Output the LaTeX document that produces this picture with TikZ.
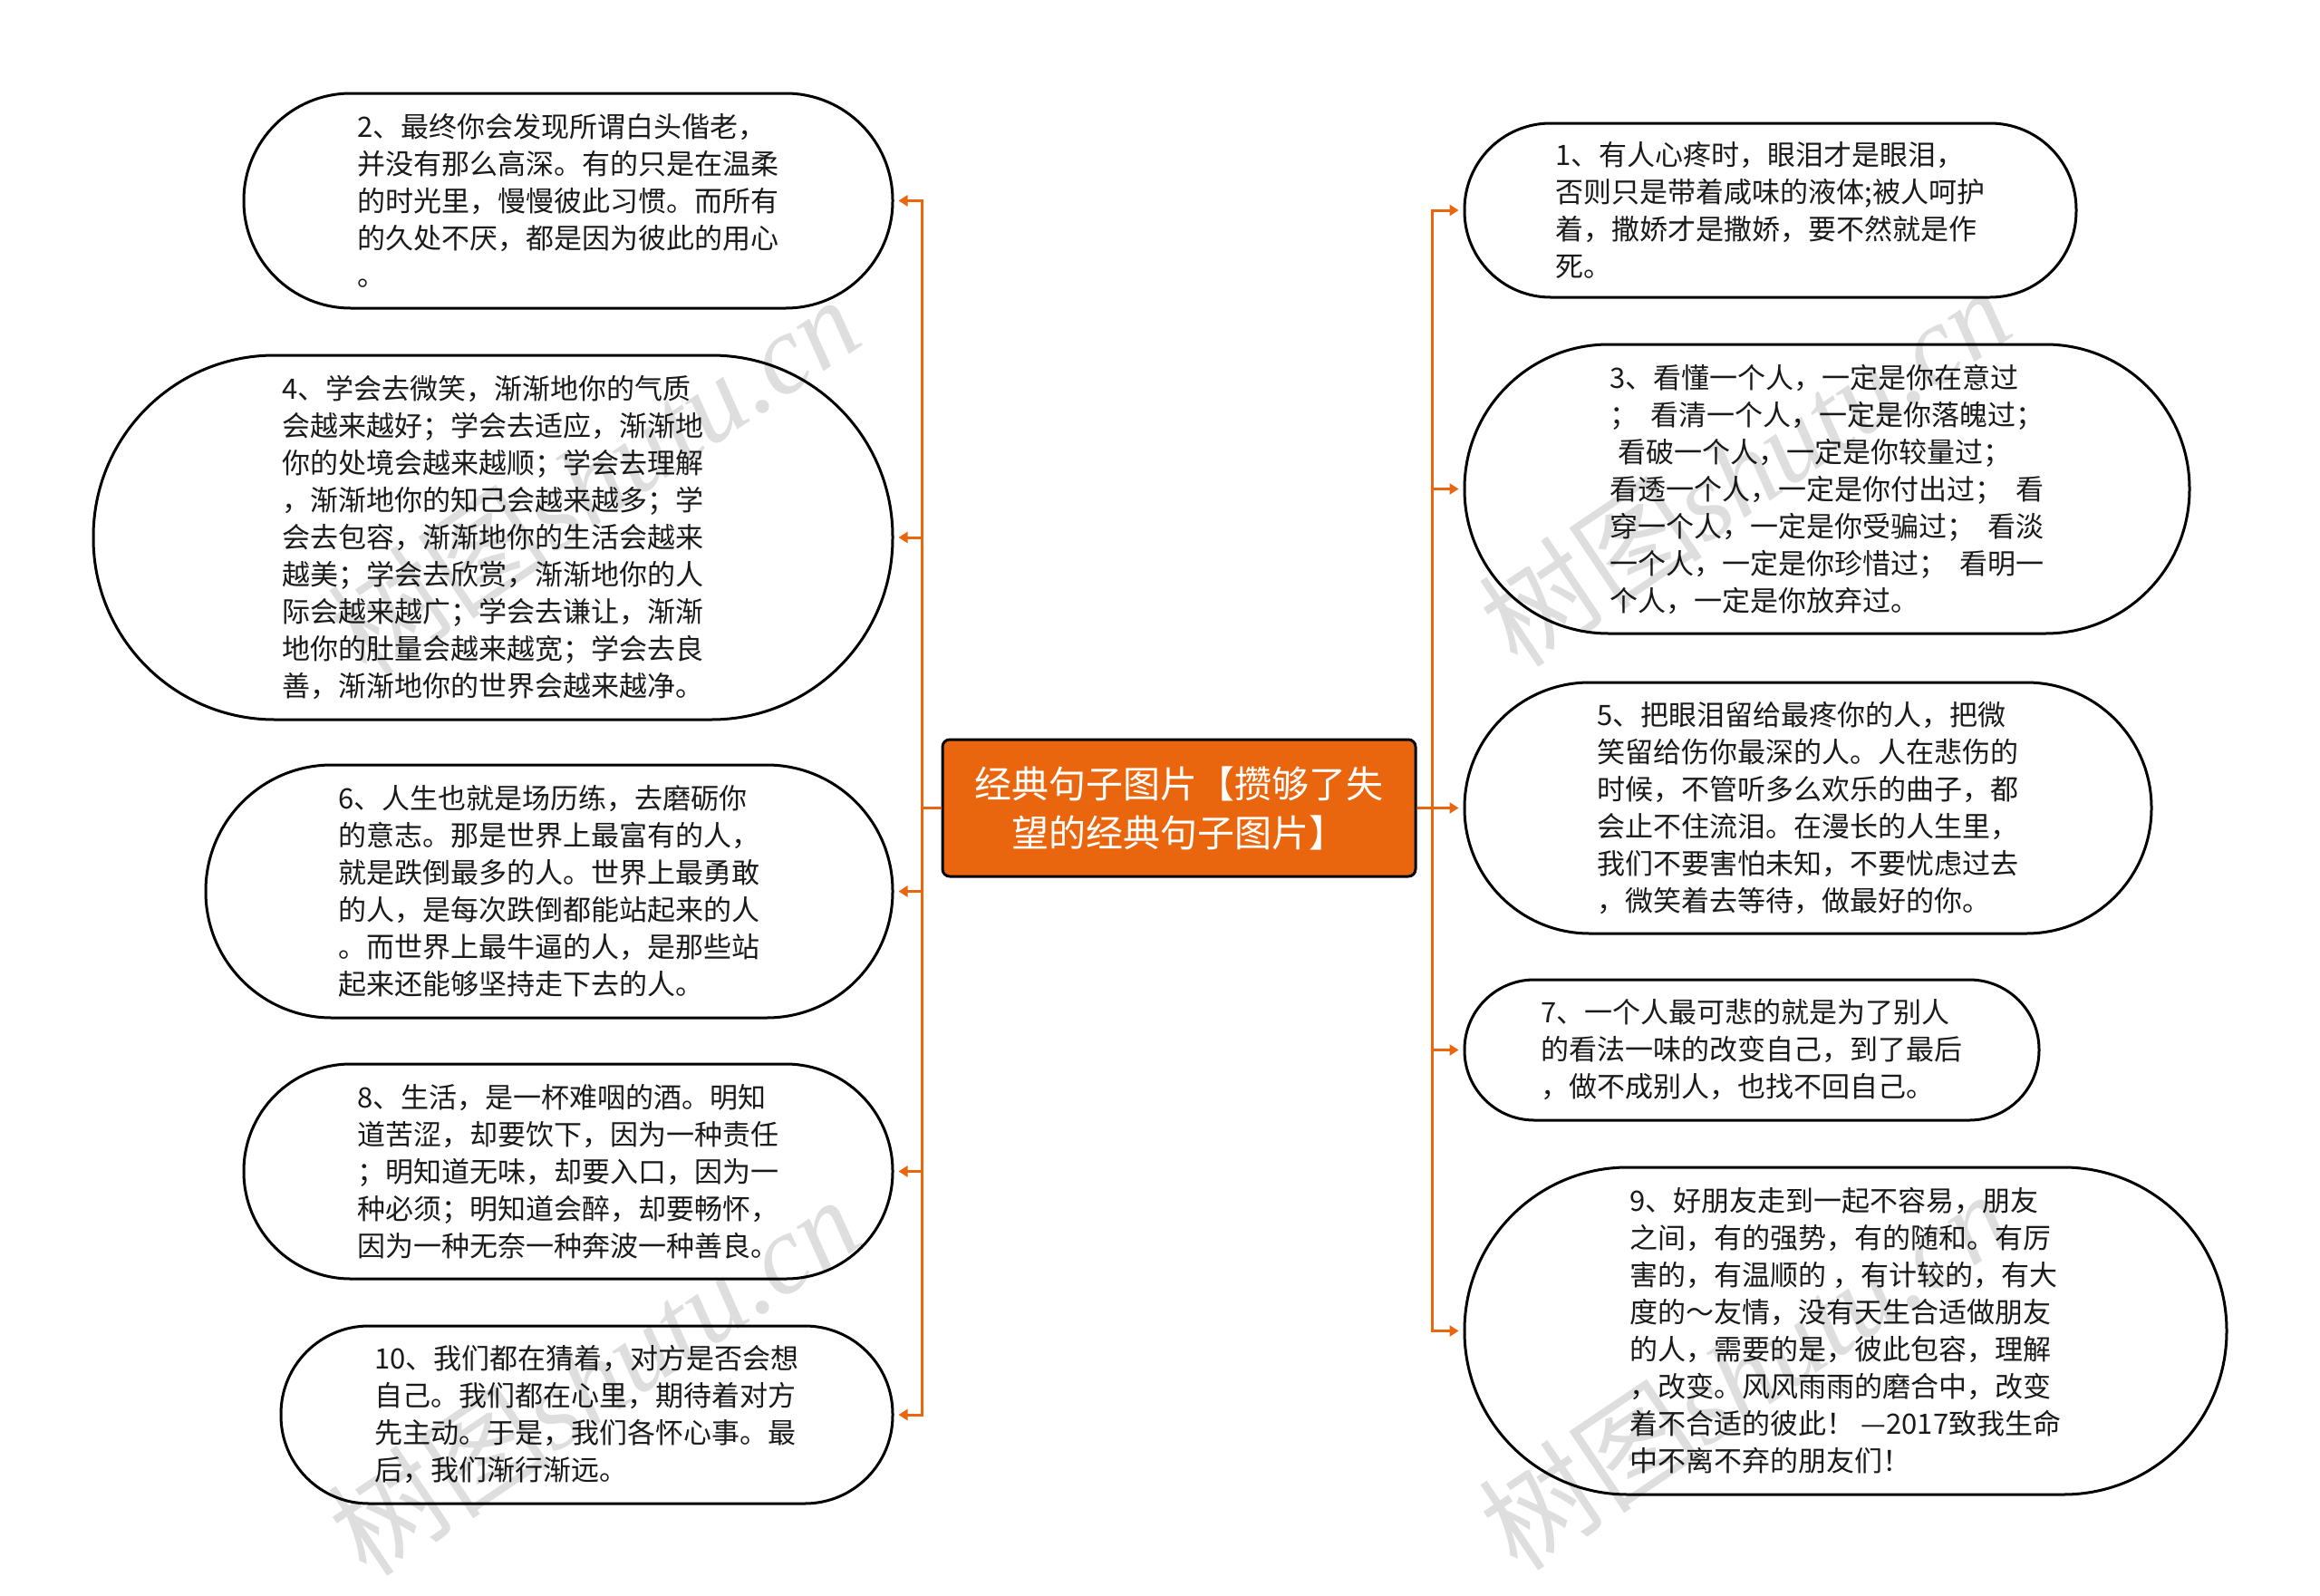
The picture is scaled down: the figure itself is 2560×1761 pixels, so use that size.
\documentclass[tikz,border=0pt]{standalone}
\usepackage{fontspec}
\setmainfont{Noto Sans CJK SC}
\newfontfamily\wmlatin{Liberation Serif}
\usetikzlibrary{arrows.meta}
\definecolor{org}{RGB}{234,102,14}
\definecolor{txt}{RGB}{26,26,26}
\begin{document}
\begin{tikzpicture}[x=0.5pt,y=-0.5pt,
  bub/.style={draw=black,line width=1.5pt,fill=white,align=left,inner sep=0pt,text=txt,
    font=\fontsize{15.5}{20.5}\selectfont},
  hub/.style={draw=black,line width=1.5pt,fill=org,rounded corners=4pt,align=center,inner sep=0pt,
    text=white,font=\fontsize{20.5}{27}\selectfont,minimum width=261pt,minimum height=75.5pt},
  link/.style={draw=org,line width=1.5pt,-{Triangle[length=5pt,width=6pt]},shorten >=2.5pt},
  wm/.style={text=black,text opacity=0.13,font=\fontsize{62}{64}\selectfont,rotate=34,inner sep=0pt}]
\useasboundingbox[fill=white] (0,0) rectangle (2560,1761);

\node[hub] (ctr) at (1301,891.5) {经典句子图片【攒够了失\\望的经典句子图片】};

% left side
\node[bub,minimum width=358pt,minimum height=118.5pt,rounded corners=59pt] (n2) at (627,221.5)
 {2、最终你会发现所谓白头偕老，\\并没有那么高深。有的只是在温柔\\的时光里，慢慢彼此习惯。而所有\\的久处不厌，都是因为彼此的用心\\。};
\node[bub,minimum width=441pt,minimum height=201pt,rounded corners=100pt] (n4) at (544,593)
 {4、学会去微笑，渐渐地你的气质\\会越来越好；学会去适应，渐渐地\\你的处境会越来越顺；学会去理解\\，渐渐地你的知己会越来越多；学\\会去包容，渐渐地你的生活会越来\\越美；学会去欣赏，渐渐地你的人\\际会越来越广；学会去谦让，渐渐\\地你的肚量会越来越宽；学会去良\\善，渐渐地你的世界会越来越净。};
\node[bub,minimum width=379pt,minimum height=139.5pt,rounded corners=69.5pt] (n6) at (606,983.5)
 {6、人生也就是场历练，去磨砺你\\的意志。那是世界上最富有的人，\\就是跌倒最多的人。世界上最勇敢\\的人，是每次跌倒都能站起来的人\\。而世界上最牛逼的人，是那些站\\起来还能够坚持走下去的人。};
\node[bub,minimum width=358pt,minimum height=118.5pt,rounded corners=59pt] (n8) at (627,1292.5)
 {8、生活，是一杯难咽的酒。明知\\道苦涩，却要饮下，因为一种责任\\；明知道无味，却要入口，因为一\\种必须；明知道会醉，却要畅怀，\\因为一种无奈一种奔波一种善良。};
\node[bub,minimum width=337.5pt,minimum height=98pt,rounded corners=48.5pt] (n10) at (647.5,1561)
 {10、我们都在猜着，对方是否会想\\自己。我们都在心里，期待着对方\\先主动。于是，我们各怀心事。最\\后，我们渐行渐远。};

% right side
\node[bub,minimum width=337.5pt,minimum height=96pt,rounded corners=47.5pt] (n1) at (1953.5,232)
 {1、有人心疼时，眼泪才是眼泪，\\否则只是带着咸味的液体;被人呵护\\着，撒娇才是撒娇，要不然就是作\\死。};
\node[bub,minimum width=400pt,minimum height=159.5pt,rounded corners=79.5pt] (n3) at (2016,539.5)
 {3、看懂一个人，一定是你在意过\\；\ \ 看清一个人，一定是你落魄过；\\\hspace*{0.3em}看破一个人，一定是你较量过；\\看透一个人，一定是你付出过；\ \ 看\\穿一个人，一定是你受骗过；\ \ 看淡\\一个人，一定是你珍惜过；\ \ 看明一\\个人，一定是你放弃过。};
\node[bub,minimum width=379pt,minimum height=138.5pt,rounded corners=69pt] (n5) at (1995,891.5)
 {5、把眼泪留给最疼你的人，把微\\笑留给伤你最深的人。人在悲伤的\\时候，不管听多么欢乐的曲子，都\\会止不住流泪。在漫长的人生里，\\我们不要害怕未知，不要忧虑过去\\，微笑着去等待，做最好的你。};
\node[bub,minimum width=317pt,minimum height=77.5pt,rounded corners=38.5pt] (n7) at (1933,1158.5)
 {7、一个人最可悲的就是为了别人\\的看法一味的改变自己，到了最后\\，做不成别人，也找不回自己。};
\node[bub,minimum width=420.5pt,minimum height=180.5pt,rounded corners=90pt] (n9) at (2036.5,1468.5)
 {9、好朋友走到一起不容易，朋友\\之间，有的强势，有的随和。有厉\\害的，有温顺的\ ，有计较的，有大\\度的～友情，没有天生合适做朋友\\的人，需要的是，彼此包容，理解\\，改变。风风雨雨的磨合中，改变\\着不合适的彼此！\ —2017致我生命\\中不离不弃的朋友们！};

% connectors
\coordinate (lt) at (1017,891.5);
\coordinate (rt) at (1580,891.5);
\foreach \n in {n2,n4,n6,n8,n10} \draw[link] (ctr.west) -- (lt) |- (\n.east);
\foreach \n in {n1,n3,n5,n7,n9} \draw[link] (ctr.east) -- (rt) |- (\n.west);

% watermarks
\node[wm] (wm1) at (655,525) {树图{\wmlatin\itshape shutu.cn}};
\node[wm] (wm2) at (1925,515) {树图{\wmlatin\itshape shutu.cn}};
\node[wm] (wm3) at (655,1518) {树图{\wmlatin\itshape shutu.cn}};
\node[wm] (wm4) at (1925,1512) {树图{\wmlatin\itshape shutu.cn}};
\end{tikzpicture}
\end{document}
